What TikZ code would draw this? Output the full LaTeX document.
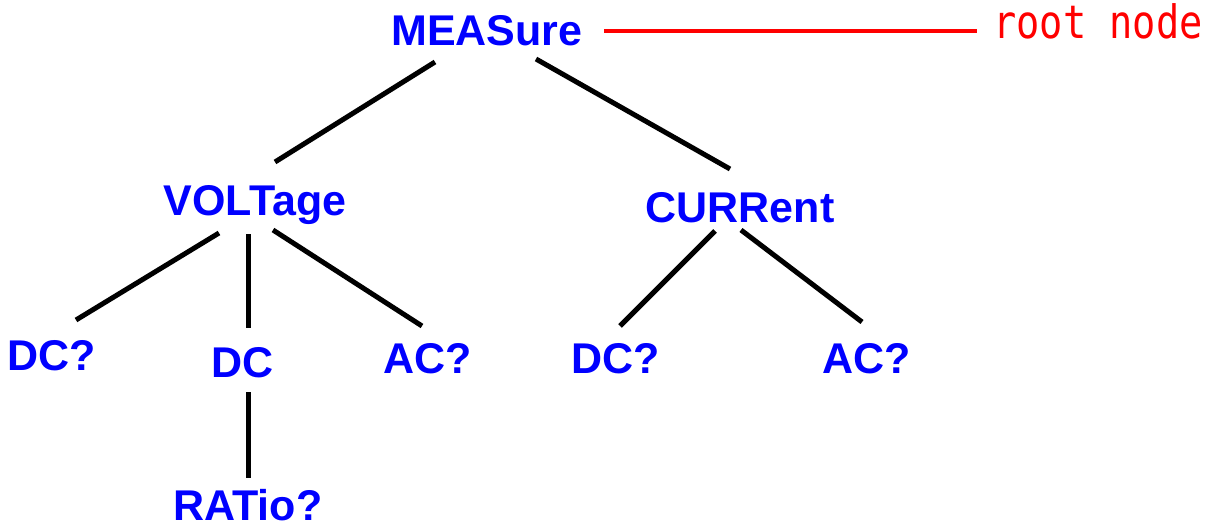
\documentclass[tikz,border=0pt]{standalone}
\usepackage{fontspec}
\setmainfont{Liberation Sans}
\newfontfamily\monofam{DejaVu Sans Mono}
\definecolor{cmdblue}{RGB}{0,0,255}
\definecolor{notered}{RGB}{255,0,0}
\begin{document}
\begin{tikzpicture}[x=1pt,y=-1pt,
  cmd/.style={anchor=base,inner sep=0pt,text=cmdblue,
    font=\fontsize{43}{43}\selectfont\bfseries},
  branch/.style={draw=black,line width=5pt,line cap=butt},
  note/.style={anchor=base,inner sep=0pt,text=notered,
    font=\fontsize{46}{46}\monofam},
  pointer/.style={draw=notered,line width=4pt}]
\useasboundingbox (0,0) rectangle (1208,527);
\fill[white] (0,0) rectangle (1208,527);

% command tree
\node[cmd] (meas) at (487,46) {MEASure};
\node[cmd] (volt) at (255,215) {VOLTage};
\node[cmd] (curr) at (740,222) {CURRent};
\node[cmd] (vdcq) at (52,370) {DC?};
\node[cmd] (vdc)  at (243,377) {DC};
\node[cmd] (vacq) at (428,373) {AC?};
\node[cmd] (cdcq) at (616,373) {DC?};
\node[cmd] (cacq) at (867,373) {AC?};
\node[cmd] (rat)  at (248,520) {RATio?};

% annotation
\node[note] (root) at (1098,39) {\scalebox{0.84}[1]{root node}};

% branches
\draw[branch] ([shift={(-52,16)}]meas.base) -- ([shift={(20,-53)}]volt.base);
\draw[branch] ([shift={(49,13)}]meas.base) -- ([shift={(-10,-53)}]curr.base);
\draw[branch] ([shift={(-36,18)}]volt.base) -- ([shift={(24,-50)}]vdcq.base);
\draw[branch] ([shift={(-7,19)}]volt.base) -- ([shift={(5,-49)}]vdc.base);
\draw[branch] ([shift={(18,15)}]volt.base) -- ([shift={(-6,-47)}]vacq.base);
\draw[branch] ([shift={(-25,9)}]curr.base) -- ([shift={(4,-47)}]cdcq.base);
\draw[branch] ([shift={(1,8)}]curr.base) -- ([shift={(-5,-51)}]cacq.base);
\draw[branch] ([shift={(5,15)}]vdc.base) -- ([shift={(0,-42)}]rat.base);

% pointer to the root
\draw[pointer] ([shift={(117,-15)}]meas.base) -- ([shift={(-121,-8)}]root.base);
\end{tikzpicture}
\end{document}
